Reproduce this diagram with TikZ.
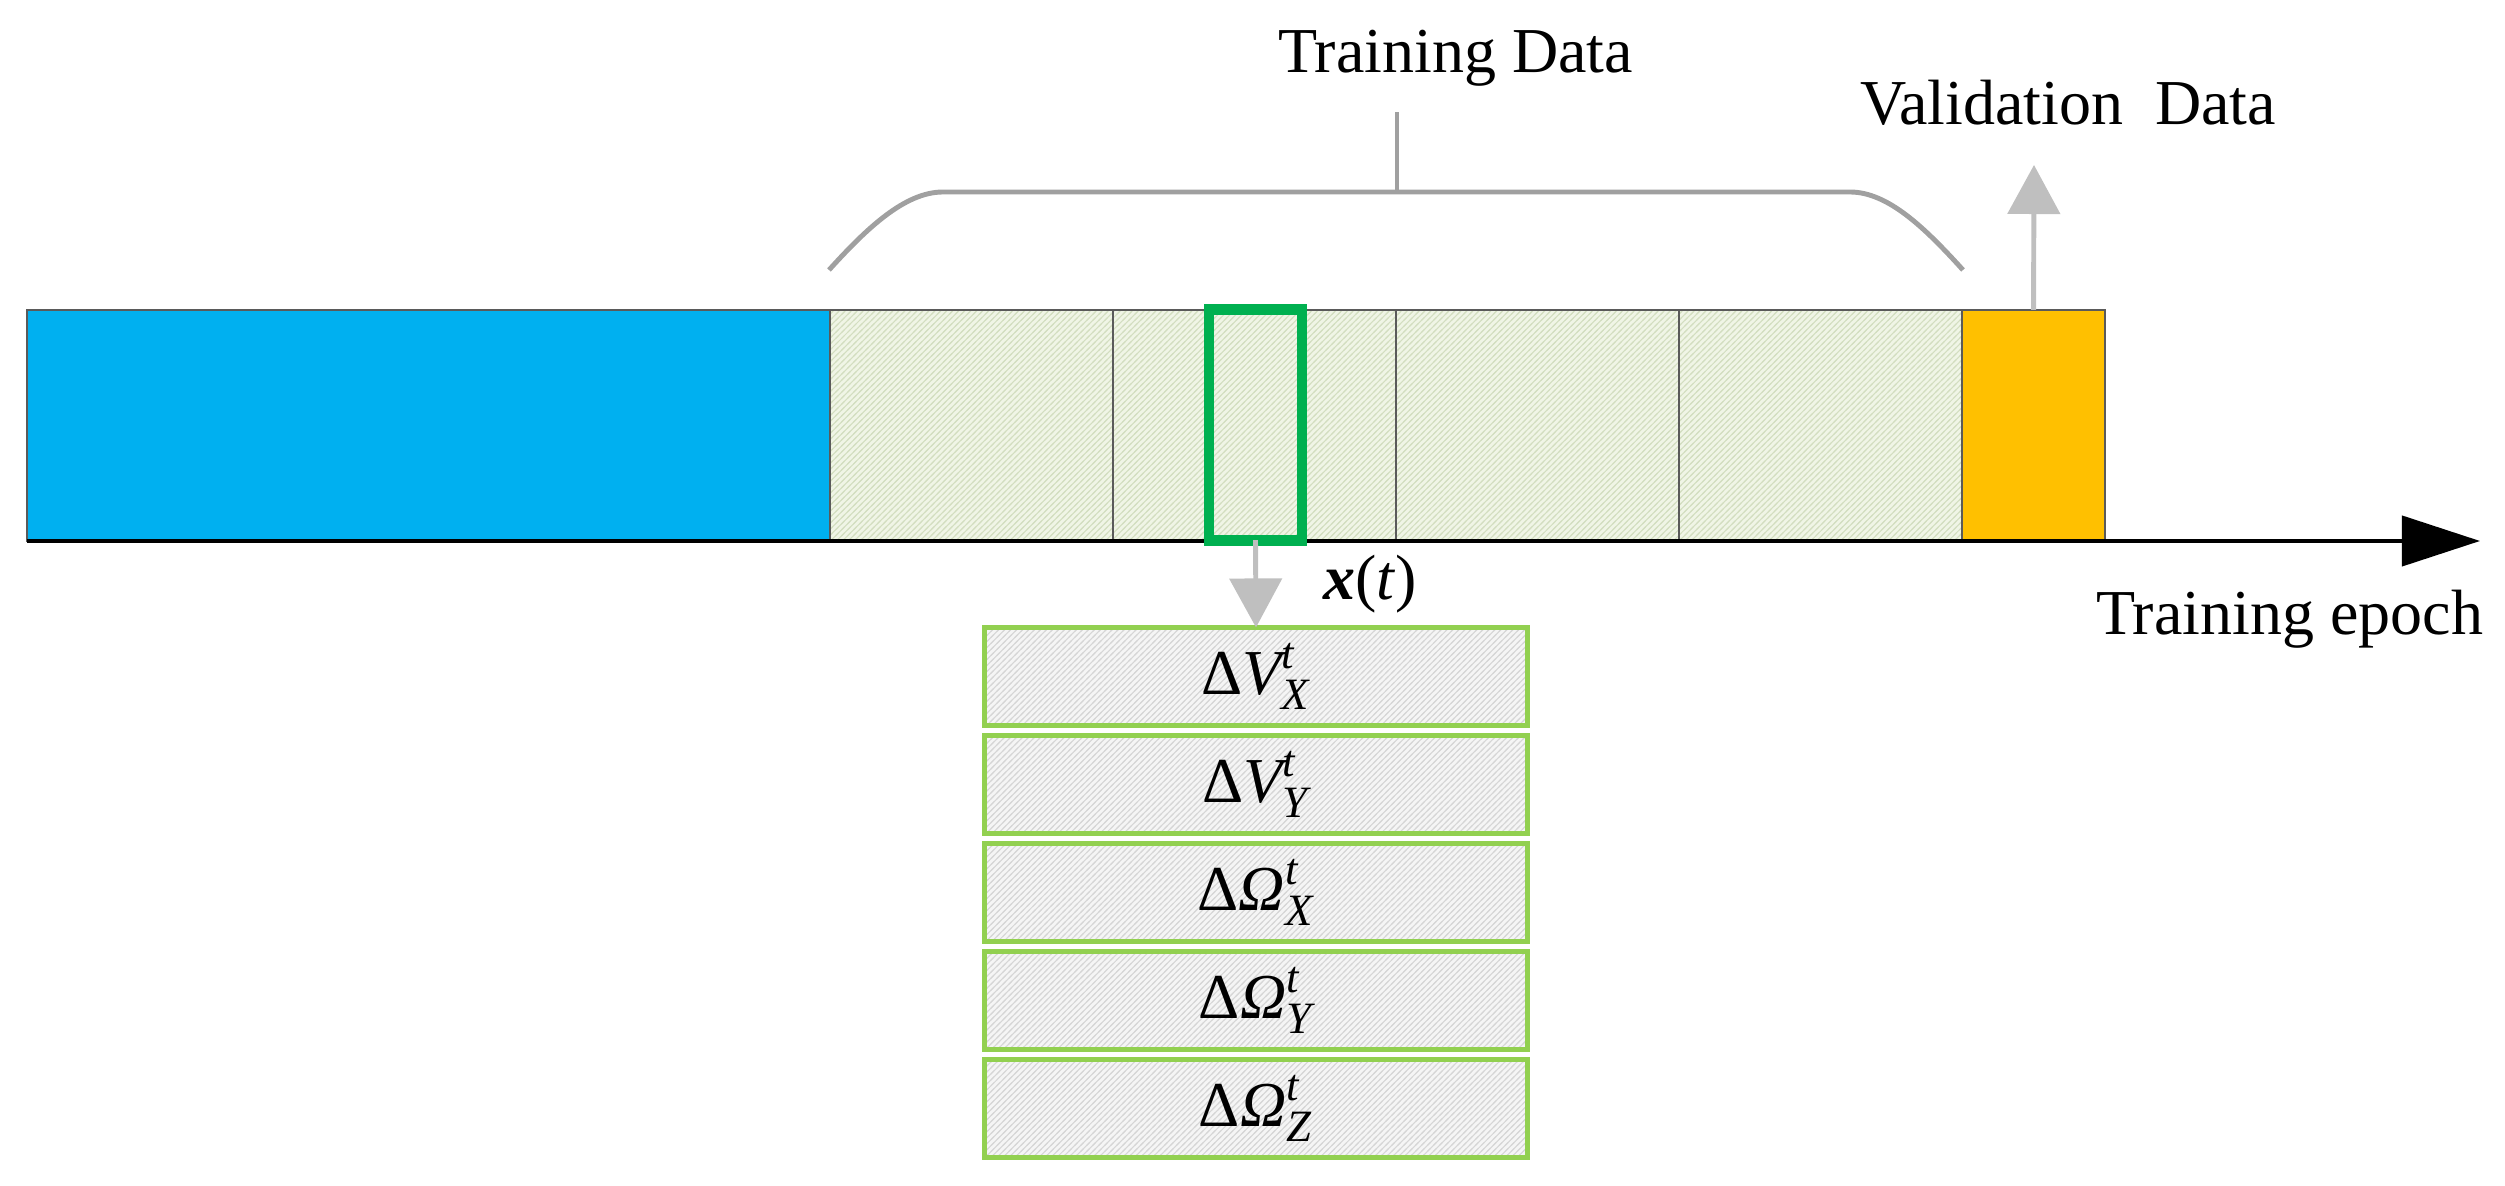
\documentclass[tikz,border=0pt]{standalone}
\usepackage{fontspec}
\usepackage{amsmath}
\setmainfont{Liberation Serif}
\usetikzlibrary{arrows.meta,patterns.meta}
\definecolor{blueseg}{HTML}{00B0F0}
\definecolor{orangeseg}{HTML}{FFC000}
\definecolor{hatchbg}{HTML}{F0F5E6}
\definecolor{hatchln}{HTML}{D3DEC0}
\definecolor{stackbg}{HTML}{F5F5F5}
\definecolor{stackln}{HTML}{D6D6D6}
\definecolor{stackedge}{HTML}{92D050}
\definecolor{selgreen}{HTML}{00B050}
\definecolor{bracegray}{HTML}{A0A0A0}
\definecolor{arrowgray}{HTML}{BFBFBF}
\definecolor{edgegray}{HTML}{5A5A5A}
\tikzdeclarepattern{
  name=finehatch, type=uncolored,
  bounding box={(-0.5pt,-0.5pt) and (2.2pt,2.2pt)},
  tile size={(1.7pt,1.7pt)},
  code={\draw[line width=0.3pt] (-0.5pt,-0.5pt) -- (2.2pt,2.2pt);}
}
\newcommand{\mydelta}[2]{$\text{Δ}\textit{#1}^{\textit{t}}_{\textit{#2}}$}
\tikzset{
  lbl/.style={font=\fontsize{18.2}{22}\selectfont, inner sep=0pt, outer sep=0pt},
  seg/.style={draw=edgegray, line width=0.5pt, minimum height=2.31cm, inner sep=0pt, outer sep=0pt, anchor=south west},
  hatchseg/.style={seg, preaction={fill=hatchbg}, preaction={pattern=finehatch, pattern color=hatchln}},
  selbox/.style={draw=selgreen, line width=3.1pt, inner sep=0pt, outer sep=0pt, minimum width=0.93cm, minimum height=2.30cm},
  stackbox/.style={draw=stackedge, line width=1.42pt, preaction={fill=stackbg}, preaction={pattern=finehatch, pattern color=stackln}, minimum width=5.43cm, minimum height=0.98cm, inner sep=0pt, outer sep=0pt, font=\fontsize{18.2}{22}\selectfont},
  axisline/.style={line width=1.15pt, -{Triangle[length=0.78cm,width=0.50cm]}},
  grayarrow/.style={draw=arrowgray, line width=1.4pt, -{Triangle[length=0.49cm,width=0.52cm]}},
  bracestyle/.style={draw=bracegray, line width=1.4pt}
}
\begin{document}
\begin{tikzpicture}[x=0.01cm,y=-0.01cm]
\useasboundingbox (0,0) rectangle (2505,1186);
% bar segments
\node[seg, fill=blueseg, minimum width=8.03cm] (blue) at (27,541) {};
\node[hatchseg, minimum width=2.83cm] (h1) at (830,541) {};
\node[hatchseg, minimum width=2.83cm] (h2) at (1113,541) {};
\node[hatchseg, minimum width=2.83cm] (h3) at (1396,541) {};
\node[hatchseg, minimum width=2.83cm] (h4) at (1679,541) {};
\node[seg, fill=orangeseg, minimum width=1.43cm] (orange) at (1962,541) {};
% axis
\coordinate (axstart) at (27,541);
\coordinate (axend) at (2480,541);
\draw[axisline] (axstart) -- (axend);
% selected window
\node[selbox] (sel) at (1255.5,425) {};
% brace
\draw[bracestyle] (829,270) .. controls (867,228) and (905,192) .. (943,192) -- (1850,192) .. controls (1888,192) and (1925,228) .. (1963,270);
\coordinate (bmid) at (1397,192);
\coordinate (btop) at (1397,112);
\draw[bracestyle] (bmid) -- (btop);
% labels
\node[lbl, anchor=base west] (td) at (1278,73) {Training Data};
\node[lbl, anchor=base east] (vd) at (2276,125) {Validation\ \ Data};
\node[lbl, anchor=base east] (te) at (2483,635) {Training epoch};
\node[lbl, anchor=base west] (xt) at (1323,600) {\textbf{\textit{x}}(\textit{t})};
% validation arrow
\coordinate (vtip) at (2034,165);
\draw[grayarrow] (orange.north) -- (vtip);
% stack
\node[stackbox] (s1) at (1256,676.5) {\mydelta{V}{X}};
\node[stackbox] (s2) at (1256,784.5) {\mydelta{V}{Y}};
\node[stackbox] (s3) at (1256,892.5) {\mydelta{Ω}{X}};
\node[stackbox] (s4) at (1256,1000.5) {\mydelta{Ω}{Y}};
\node[stackbox] (s5) at (1256,1108.5) {\mydelta{Ω}{Z}};
\draw[grayarrow] (sel.south) -- (s1.north);
\end{tikzpicture}
\end{document}
